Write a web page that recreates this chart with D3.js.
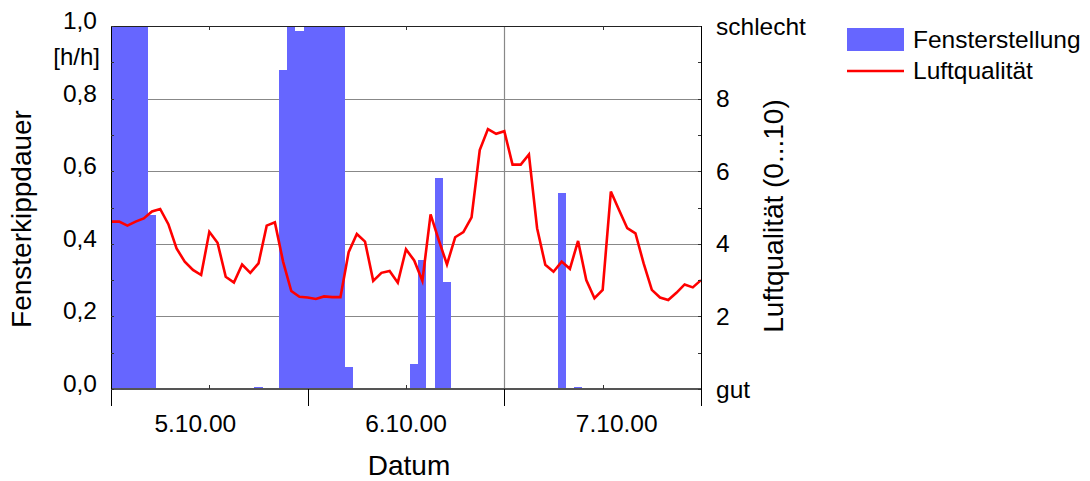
<!DOCTYPE html>
<html>
<head>
<meta charset="utf-8">
<script src="https://cdn.jsdelivr.net/npm/d3@7"></script>
<style>
  body { margin: 0; background: #fff; }
  svg text { font-family: "Liberation Sans", Arial, sans-serif; fill: #000; }
</style>
</head>
<body>
<svg id="chart" width="1090" height="481"></svg>
<script>
// hourly values, 5.10.00 00:00 .. 8.10.00 00:00
let startTime = new Date(2000, 9, 5, 0, 0);
let endTime = new Date(2000, 9, 8, 0, 0);

// Fensterkippdauer [h/h] per hour
let fensterValues = [
  1, 1, 1, 1, 1, 0.48, 0, 0, 0, 0, 0, 0,
  0, 0, 0, 0, 0, 0, 0.005, 0, 0, 0.88, 1, 0.985,
  1, 1, 1, 1, 1, 0.06, 0, 0, 0, 0, 0, 0,
  0, 0.07, 0.355, 0, 0.58, 0.296, 0, 0, 0, 0, 0, 0,
  0, 0, 0, 0, 0, 0, 0, 0.539, 0, 0.005, 0, 0,
  0, 0, 0, 0, 0, 0, 0, 0, 0, 0, 0, 0,
  0
];

// Luftqualitaet (0...10) per hour
let luftValues = [
  4.61, 4.61, 4.50, 4.61, 4.70, 4.89, 4.96, 4.54, 3.87, 3.51, 3.28, 3.14,
  4.33, 4.03, 3.09, 2.93, 3.43, 3.20, 3.46, 4.50, 4.59, 3.51, 2.70, 2.54,
  2.52, 2.48, 2.55, 2.53, 2.53, 3.77, 4.27, 4.06, 2.98, 3.20, 3.25, 2.93,
  3.85, 3.54, 2.98, 4.81, 4.10, 3.43, 4.18, 4.32, 4.73, 6.58, 7.16, 7.03,
  7.10, 6.18, 6.18, 6.46, 4.43, 3.42, 3.23, 3.51, 3.31, 4.08, 3.00, 2.50,
  2.73, 5.44, 4.93, 4.43, 4.29, 3.46, 2.73, 2.52, 2.45, 2.65, 2.88, 2.80,
  3.00
];

let dayLabels = ["5.10.00", "6.10.00", "7.10.00"];
let leftTicks = [0, 0.2, 0.4, 0.6, 0.8, 1.0];
let rightTicks = [0, 2, 4, 6, 8, 10];
let rightTickText = {0: "gut", 10: "schlecht"};
let seriesNames = ["Fensterstellung", "Luftqualität"];

//--------------------------------------
let pLeft = 111, pRight = 701, pTop = 26, pBottom = 389;
let barColor = "#6666ff";
let lineColor = "#ff0000";

let svg = d3.select("#chart");

let x = d3.scaleTime().domain([startTime, endTime]).range([pLeft, pRight]);
let yL = d3.scaleLinear().domain([0, 1]).range([pBottom, pTop]);
let yR = d3.scaleLinear().domain([0, 10]).range([pBottom, pTop]);
let xLab = d3.scalePoint().domain(dayLabels).range([pLeft, pRight]).padding(0.4);

let de = d3.formatLocale({decimal: ",", thousands: ".", grouping: [3], currency: ["", " €"]});
let fmt = de.format(".1f");

function hourTime(i, off) { return d3.timeMinute.offset(startTime, i * 60 + off); }

let data = fensterValues.map(function(v, i) {
  return {t: hourTime(i, 0), fenster: v, luft: luftValues[i], i: i};
});

svg.append("clipPath").attr("id", "plotClip")
  .append("rect").attr("x", pLeft).attr("y", pTop).attr("width", pRight - pLeft).attr("height", pBottom - pTop);

// grid
svg.append("g")
  .selectAll("line")
  .data(leftTicks.filter(function(d) { return d > 0 && d < 1; }))
  .enter().append("line")
    .attr("x1", pLeft).attr("x2", pRight)
    .attr("y1", function(d) { return Math.round(yL(d)) + 0.5; })
    .attr("y2", function(d) { return Math.round(yL(d)) + 0.5; })
    .style("stroke", "#888").style("stroke-width", 1.2);

let days = d3.timeDay.range(startTime, d3.timeDay.offset(endTime, 1));
svg.append("g")
  .selectAll("line")
  .data(days.slice(1, -1))
  .enter().append("line")
    .attr("x1", function(d) { return Math.round(x(d)) + 0.5; })
    .attr("x2", function(d) { return Math.round(x(d)) + 0.5; })
    .attr("y1", pTop).attr("y2", pBottom)
    .style("stroke", "#888").style("stroke-width", 1.2);

// bars (rounded edges so neighbours touch without seams)
function barX0(d) { return Math.round(x(hourTime(d.i, -30))); }
function barX1(d) { return Math.round(x(hourTime(d.i, 30))); }

svg.append("g")
    .attr("clip-path", "url(#plotClip)")
    .attr("shape-rendering", "crispEdges")
  .selectAll("rect")
  .data(data.filter(function(d) { return d.fenster > 0; }))
  .enter().append("rect")
    .attr("x", barX0)
    .attr("width", function(d) { return barX1(d) - barX0(d); })
    .attr("y", function(d) { return Math.round(yL(d.fenster)); })
    .attr("height", function(d) { return pBottom - Math.round(yL(d.fenster)); })
    .attr("fill", barColor);

// line
let line = d3.line()
  .x(function(d) { return x(d.t); })
  .y(function(d) { return yR(d.luft); });

svg.append("path")
  .datum(data)
  .attr("d", line)
  .attr("fill", "none")
  .style("stroke", lineColor)
  .style("stroke-width", 2.6)
  .style("stroke-linejoin", "miter");

//--------------------------------------
// frame + axes
svg.append("line").attr("x1", pLeft).attr("x2", pRight).attr("y1", pTop + 0.5).attr("y2", pTop + 0.5)
  .style("stroke", "#222").style("stroke-width", 1);
svg.append("line").attr("x1", pLeft).attr("x2", pRight + 0.5).attr("y1", pBottom).attr("y2", pBottom)
  .style("stroke", "#555").style("stroke-width", 2.2);
svg.append("line").attr("x1", pLeft + 0.5).attr("x2", pLeft + 0.5).attr("y1", pTop).attr("y2", pBottom + 17)
  .style("stroke", "#000").style("stroke-width", 1);
svg.append("line").attr("x1", pRight + 0.5).attr("x2", pRight + 0.5).attr("y1", pTop).attr("y2", pBottom + 17)
  .style("stroke", "#000").style("stroke-width", 1);

// day ticks below axis
svg.append("g")
  .selectAll("line")
  .data(days.slice(1, -1))
  .enter().append("line")
    .attr("x1", function(d) { return Math.round(x(d)) + 0.5; })
    .attr("x2", function(d) { return Math.round(x(d)) + 0.5; })
    .attr("y1", pBottom).attr("y2", pBottom + 17)
    .style("stroke", "#000");

// noon ticks, top and bottom, inward
let noons = days.slice(0, 3).map(function(d) { return d3.timeHour.offset(d, 12); });
noons.forEach(function(n) {
  let xx = Math.round(x(n)) + 0.5;
  svg.append("line").attr("x1", xx).attr("x2", xx).attr("y1", pTop).attr("y2", pTop + 4).style("stroke", "#333");
  svg.append("line").attr("x1", xx).attr("x2", xx).attr("y1", pBottom - 4).attr("y2", pBottom).style("stroke", "#333");
});

// inner ticks on y axes
svg.append("g")
  .selectAll("line")
  .data(d3.range(0, 11))
  .enter().append("line")
    .attr("x1", pLeft).attr("x2", pLeft + 3)
    .attr("y1", function(d) { return Math.round(yL(d / 10)) + 0.5; })
    .attr("y2", function(d) { return Math.round(yL(d / 10)) + 0.5; })
    .style("stroke", "#333");
svg.append("g")
  .selectAll("line")
  .data(d3.range(0, 11))
  .enter().append("line")
    .attr("x1", pRight - 3).attr("x2", pRight)
    .attr("y1", function(d) { return Math.round(yR(d)) + 0.5; })
    .attr("y2", function(d) { return Math.round(yR(d)) + 0.5; })
    .style("stroke", "#333");

//--------------------------------------
// tick labels
svg.append("g")
  .selectAll("text")
  .data(leftTicks)
  .enter().append("text")
    .attr("x", 97)
    .attr("y", function(d) { return yL(d) + 3; })
    .attr("text-anchor", "end")
    .style("font-size", "24.5px")
    .text(function(d) { return fmt(d); });

svg.append("text")
  .attr("x", 100)
  .attr("y", yL(0.9) + 3)
  .attr("text-anchor", "end")
  .style("font-size", "24px")
  .text("[h/h]");

svg.append("g")
  .selectAll("text")
  .data(rightTicks)
  .enter().append("text")
    .attr("x", 716)
    .attr("y", function(d) { return yR(d) + 8.5; })
    .style("font-size", "24.5px")
    .text(function(d) { return rightTickText[d] || d; });

svg.append("g")
  .selectAll("text")
  .data(dayLabels)
  .enter().append("text")
    .attr("x", function(d) { return xLab(d); })
    .attr("y", 432)
    .attr("text-anchor", "middle")
    .style("font-size", "24.5px")
    .text(function(d) { return d; });

// axis titles
svg.append("text")
  .attr("x", (pLeft + pRight) / 2 + 3).attr("y", 475)
  .attr("text-anchor", "middle")
  .style("font-size", "28px")
  .text("Datum");

svg.append("text")
  .attr("transform", "translate(31,219) rotate(-90)")
  .attr("text-anchor", "middle")
  .style("font-size", "28px")
  .text("Fensterkippdauer");

svg.append("text")
  .attr("transform", "translate(783,216) rotate(-90)")
  .attr("text-anchor", "middle")
  .style("font-size", "28px")
  .text("Luftqualität (0...10)");

//--------------------------------------
// legend
let legend = svg.append("g").attr("transform", "translate(847,28)");
legend.append("rect").attr("x", 0).attr("y", 0).attr("width", 57).attr("height", 23).attr("fill", barColor);
legend.append("line").attr("x1", 0).attr("x2", 57).attr("y1", 43).attr("y2", 43)
  .style("stroke", lineColor).style("stroke-width", 2.6);
legend.selectAll("text.lg")
  .data(seriesNames)
  .enter().append("text")
    .attr("class", "lg")
    .attr("x", 66)
    .attr("y", function(d, i) { return 20 + i * 31; })
    .style("font-size", "24.5px")
    .text(function(d) { return d; });
</script>
</body>
</html>
